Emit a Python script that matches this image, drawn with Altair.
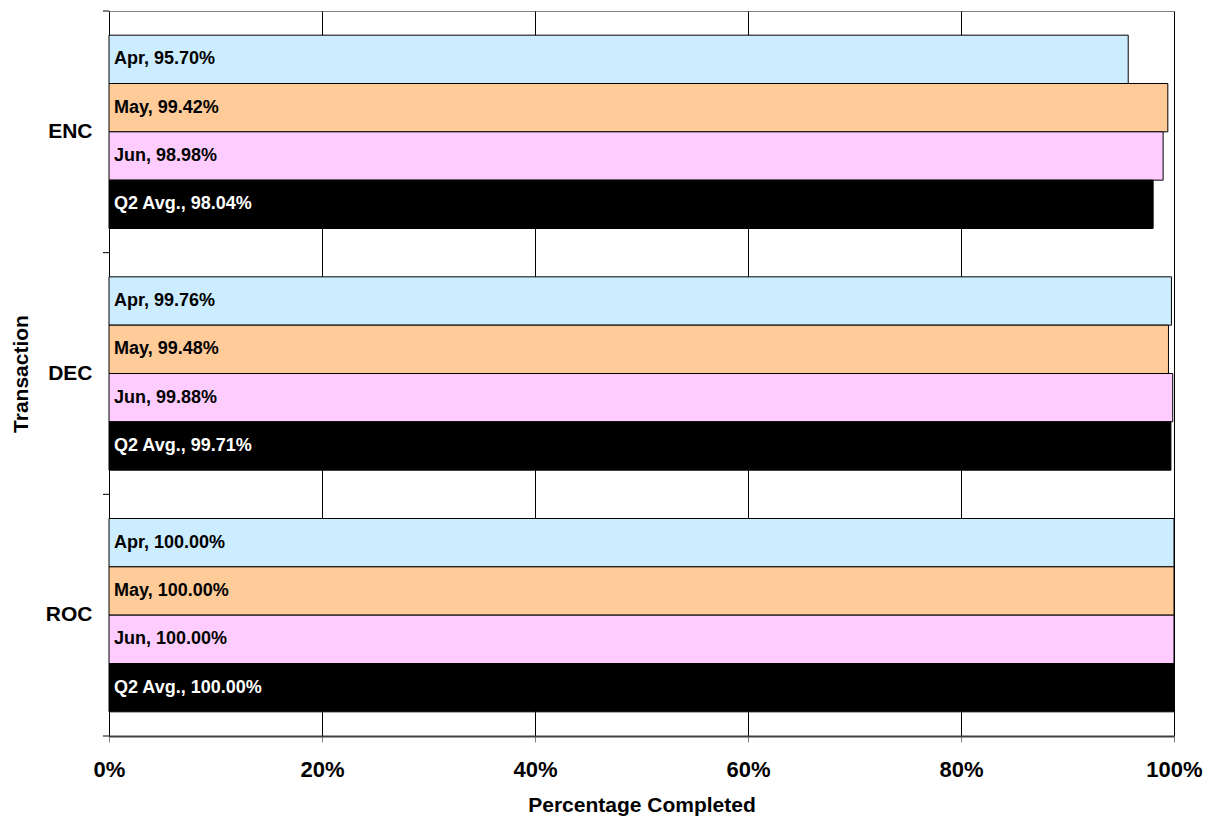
import altair as alt
import pandas as pd

transactions = ["ENC", "DEC", "ROC"]
series = ["Apr", "May", "Jun", "Q2 Avg."]
enc_values = [95.70, 99.42, 98.98, 98.04]
dec_values = [99.76, 99.48, 99.88, 99.71]
roc_values = [100.00, 100.00, 100.00, 100.00]
series_colors = ["#CCECFF", "#FFCC99", "#FFCCFF", "#000000"]
text_colors = ["#000000", "#000000", "#000000", "#FFFFFF"]
x_ticks = [0, 0.2, 0.4, 0.6, 0.8, 1.0]
boundaries = [0, 1, 2, 3]

rows = []
for t, vals in zip(transactions, [enc_values, dec_values, roc_values]):
    for s, v, tc in zip(series, vals, text_colors):
        rows.append({"Transaction": t, "Series": s, "Value": v / 100.0,
                     "Label": f"{s}, {v:.2f}%", "TextColor": tc})
df = pd.DataFrame(rows)
bdf = pd.DataFrame({"b": boundaries})

FONT = "Liberation Sans"

y_enc = alt.Y("Transaction:N", sort=transactions,
              scale=alt.Scale(paddingInner=0.2, paddingOuter=0.1),
              axis=alt.Axis(title="Transaction", ticks=False, tickSize=0,
                            labelPadding=17, labelFontSize=21, labelFontWeight="bold",
                            labelFont=FONT, labelColor="#000000",
                            titleFont=FONT, titleFontSize=21, titleFontWeight="bold",
                            titleColor="#000000", titlePadding=14,
                            domainColor="#000000", domainWidth=1))
yoff = alt.YOffset("Series:N", sort=series, scale=alt.Scale(paddingInner=0, paddingOuter=0))

bars = alt.Chart(df).mark_bar(stroke="#000000", strokeWidth=1).encode(
    y=y_enc,
    yOffset=yoff,
    x=alt.X("Value:Q", scale=alt.Scale(domain=[0, 1], nice=False),
            axis=alt.Axis(title="Percentage Completed", format="%", values=x_ticks,
                          grid=True, gridColor="#000000", gridWidth=1,
                          tickColor="#808080", tickSize=6, labelPadding=17,
                          labelFlush=False,
                          labelFontSize=22, labelFontWeight="bold", labelFont=FONT,
                          labelColor="#000000",
                          titleFont=FONT, titleFontSize=21, titleFontWeight="bold",
                          titleColor="#000000", titlePadding=14,
                          domainColor="#404040", domainWidth=2)),
    color=alt.Color("Series:N", sort=series,
                    scale=alt.Scale(domain=series, range=series_colors), legend=None),
)

labels = alt.Chart(df).mark_text(align="left", baseline="middle", font=FONT,
                                 fontSize=18, fontWeight="bold").encode(
    y=alt.Y("Transaction:N", sort=transactions),
    yOffset=alt.YOffset("Series:N", sort=series),
    x=alt.value(5),
    text="Label:N",
    color=alt.Color("TextColor:N", scale=None),
)

main = alt.layer(bars, labels)

ticks = alt.Chart(bdf).mark_rule(color="#000000", strokeWidth=1).encode(
    y=alt.Y("b:Q", scale=alt.Scale(domain=[0, 3], nice=False), axis=None),
    x=alt.value(-6),
    x2=alt.value(0),
)

chart = alt.layer(main, ticks).resolve_scale(y="independent").properties(
    width=1065, height=725,
    autosize=alt.AutoSizeParams(type="none"),
    padding={"left": 109, "top": 11, "right": 36, "bottom": 82},
    background="#FFFFFF",
).configure_view(stroke="#808080", strokeWidth=1)

chart.save("out.html", embed_options={"renderer": "svg", "actions": False})
